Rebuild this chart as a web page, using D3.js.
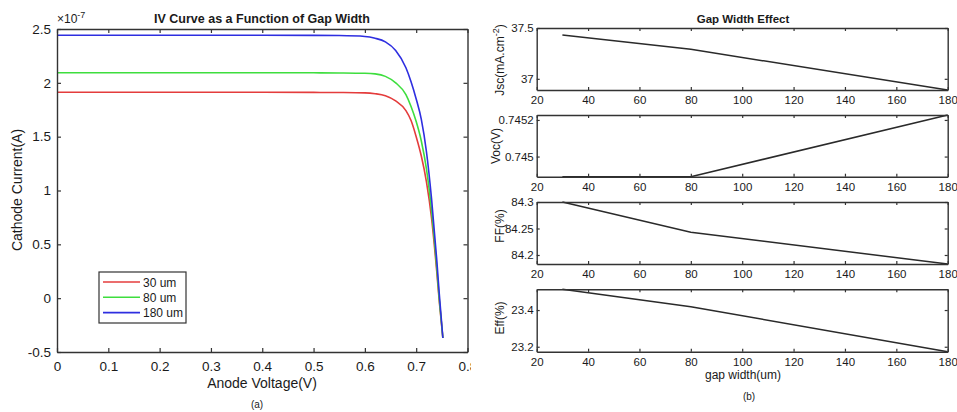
<!DOCTYPE html>
<html>
<head>
<meta charset="utf-8">
<script src="https://cdn.jsdelivr.net/npm/d3@7"></script>
<style>
  body { margin: 0; background: #fff; }
  svg { font-family: "Liberation Sans", Arial, Helvetica, sans-serif; }
  .tick text { fill: #1a1a1a; }
</style>
</head>
<body>
<svg id="chart" width="957" height="412"></svg>
<script>
// ---- data: IV curves (current in units of 1e-7 A) ----
const voltage = [0, 0.1, 0.2, 0.3, 0.4, 0.5, 0.55, 0.6, 0.62, 0.64, 0.66, 0.68, 0.69, 0.70, 0.71, 0.72, 0.73, 0.74, 0.745, 0.752];
const current30 = [1.912, 1.912, 1.912, 1.912, 1.912, 1.911, 1.910, 1.907, 1.899, 1.880, 1.832, 1.742, 1.650, 1.500, 1.320, 1.080, 0.740, 0.250, -0.030, -0.370];
const current80 = [2.094, 2.094, 2.094, 2.094, 2.094, 2.093, 2.092, 2.089, 2.083, 2.060, 2.000, 1.890, 1.780, 1.640, 1.460, 1.200, 0.810, 0.290, -0.010, -0.370];
const current180 = [2.442, 2.442, 2.442, 2.442, 2.442, 2.441, 2.439, 2.431, 2.414, 2.380, 2.300, 2.140, 2.010, 1.850, 1.660, 1.360, 0.920, 0.360, 0.040, -0.370];
const seriesNames = ["30 um", "80 um", "180 um"];
const seriesColors = ["#e43c3c", "#3ede3e", "#2e2ee0"];
const ivTicksX = [0, 0.1, 0.2, 0.3, 0.4, 0.5, 0.6, 0.7, 0.8];
const ivTicksY = [-0.5, 0, 0.5, 1, 1.5, 2, 2.5];

// ---- data: gap width effect ----
const gapWidth = [30, 80, 180];
const jsc = [37.43, 37.29, 36.89];
const voc = [0.74489, 0.74489, 0.745227];
const ff = [84.300, 84.243, 84.183];
const eff = [23.513, 23.418, 23.173];
const gapTicks = [20, 40, 60, 80, 100, 120, 140, 160, 180];

const svg = d3.select("#chart");
const ink = "#333";

// MATLAB-like box axes: ticks pointing inward on all four sides
function boxAxes(g, x, y, xTicks, yTicks, opt) {
  const [x0, x1] = x.range();
  const [y1, y0] = y.range();
  const fs = opt.fontSize;
  const tl = opt.tick || 4;

  const bottom = g.append("g").attr("transform", `translate(0,${y1})`)
    .call(d3.axisBottom(x).tickValues(xTicks).tickSizeInner(-tl).tickSizeOuter(0).tickPadding(opt.xPad || 7).tickFormat(d => String(d)));
  const top = g.append("g").attr("transform", `translate(0,${y0})`)
    .call(d3.axisTop(x).tickValues(xTicks).tickSizeInner(-tl).tickSizeOuter(0).tickFormat(""));
  const left = g.append("g").attr("transform", `translate(${x0},0)`)
    .call(d3.axisLeft(y).tickValues(yTicks).tickSizeInner(-tl).tickSizeOuter(0).tickPadding(opt.yPad || 6).tickFormat(d => String(d)));
  const right = g.append("g").attr("transform", `translate(${x1},0)`)
    .call(d3.axisRight(y).tickValues(yTicks).tickSizeInner(-tl).tickSizeOuter(0).tickFormat(""));

  [bottom, top, left, right].forEach(a => {
    a.select(".domain").attr("stroke", ink).attr("stroke-width", 1.4);
    a.selectAll(".tick line").attr("stroke", ink).attr("stroke-width", 1.2);
    a.selectAll(".tick text").style("font-size", fs + "px");
  });
}

// ================= left panel: IV curve =================
svg.append("defs").append("clipPath").attr("id", "leftClip")
  .append("rect").attr("x", 0).attr("y", 0).attr("width", 471).attr("height", 412);

const left = svg.append("g").attr("clip-path", "url(#leftClip)");

const xIV = d3.scaleLinear().domain([0, 0.8]).range([57, 467.5]);
const yIV = d3.scaleLinear().domain([-0.5, 2.5]).range([352, 29]);

const curves = [current30, current80, current180];
const line = d3.line()
  .x((d, i) => xIV(voltage[i]))
  .y(d => yIV(d))
  .curve(d3.curveMonotoneX);

left.append("g").selectAll("path")
  .data(curves)
  .join("path")
  .attr("d", d => line(d))
  .attr("fill", "none")
  .attr("stroke", (d, i) => seriesColors[i])
  .attr("stroke-width", 1.6);

boxAxes(left, xIV, yIV, ivTicksX, ivTicksY, { fontSize: 13.5, xPad: 9, yPad: 6 });

// exponent label
const exp = left.append("text").attr("x", 57).attr("y", 23).style("font-size", "12px").attr("fill", "#1a1a1a");
exp.append("tspan").text("\u00d710");
exp.append("tspan").attr("dy", -5).style("font-size", "9px").text("-7");

left.append("text")
  .attr("x", 262).attr("y", 23)
  .attr("text-anchor", "middle")
  .style("font-size", "12.5px").style("font-weight", "bold")
  .attr("fill", "#1a1a1a")
  .text("IV Curve as a Function of Gap Width");

left.append("text")
  .attr("x", 262).attr("y", 388)
  .attr("text-anchor", "middle")
  .style("font-size", "14px").attr("fill", "#1a1a1a")
  .text("Anode Voltage(V)");

left.append("text")
  .attr("transform", "translate(22,190) rotate(-90)")
  .attr("text-anchor", "middle")
  .style("font-size", "14px").attr("fill", "#1a1a1a")
  .text("Cathode Current(A)");

left.append("text")
  .attr("x", 257).attr("y", 408)
  .attr("text-anchor", "middle")
  .style("font-size", "10px").attr("fill", "#1a1a1a")
  .text("(a)");

// legend
const legend = left.append("g").attr("transform", "translate(99,272)");
legend.append("rect").attr("width", 87).attr("height", 51)
  .attr("fill", "#fff").attr("stroke", ink).attr("stroke-width", 1.2);
const item = legend.selectAll("g.item").data(seriesNames).join("g")
  .attr("class", "item")
  .attr("transform", (d, i) => `translate(0,${10 + i * 15.3})`);
item.append("line").attr("x1", 4).attr("x2", 41).attr("y1", 0).attr("y2", 0)
  .attr("stroke", (d, i) => seriesColors[i]).attr("stroke-width", 1.6);
item.append("text").attr("x", 44).attr("y", 4.5)
  .style("font-size", "12px").attr("fill", "#1a1a1a")
  .text(d => d);

// ================= right panel: gap width effect =================
const right = svg.append("g");
const xGap = d3.scaleLinear().domain([20, 180]).range([536.7, 947.7]);

const panels = [
  { values: jsc, domain: [36.89, 37.5], ticks: [37, 37.5], rows: [28, 90] },
  { values: voc, domain: [0.74489, 0.745227], ticks: [0.745, 0.7452], rows: [115, 176.7] },
  { values: ff, domain: [84.183, 84.3], ticks: [84.2, 84.25, 84.3], rows: [202, 264] },
  { values: eff, domain: [23.173, 23.513], ticks: [23.2, 23.4], rows: [289.3, 351.7] }
];

panels.forEach(p => {
  const g = right.append("g");
  const y = d3.scaleLinear().domain(p.domain).range([p.rows[1], p.rows[0]]);
  g.append("path")
    .datum(p.values)
    .attr("d", d3.line().x((d, i) => xGap(gapWidth[i])).y(d => y(d)))
    .attr("fill", "none")
    .attr("stroke", "#2a2a2a")
    .attr("stroke-width", 1.5);
  boxAxes(g, xGap, y, gapTicks, p.ticks, { fontSize: 11.5, xPad: 6, yPad: 3, tick: 3 });
});

right.append("text")
  .attr("x", 743).attr("y", 23)
  .attr("text-anchor", "middle")
  .style("font-size", "11.5px").style("font-weight", "bold").attr("fill", "#1a1a1a")
  .text("Gap Width Effect");

// y labels of the subplots
const jscLabel = right.append("text")
  .attr("transform", "translate(504,60) rotate(-90)")
  .attr("text-anchor", "middle")
  .style("font-size", "12px").attr("fill", "#1a1a1a");
jscLabel.append("tspan").text("Jsc(mA.cm");
jscLabel.append("tspan").attr("dy", -5).style("font-size", "9px").text("-2");
jscLabel.append("tspan").attr("dy", 5).text(")");

const yLabels = [
  { text: "Voc(V)", x: 500, y: 146 },
  { text: "FF(%)", x: 504, y: 226 },
  { text: "Eff(%)", x: 504, y: 318 }
];
right.selectAll("text.ylab").data(yLabels).join("text")
  .attr("class", "ylab")
  .attr("transform", d => `translate(${d.x},${d.y}) rotate(-90)`)
  .attr("text-anchor", "middle")
  .style("font-size", "12px").attr("fill", "#1a1a1a")
  .text(d => d.text);

right.append("text")
  .attr("x", 743).attr("y", 379)
  .attr("text-anchor", "middle")
  .style("font-size", "12px").attr("fill", "#1a1a1a")
  .text("gap width(um)");

right.append("text")
  .attr("x", 749).attr("y", 400)
  .attr("text-anchor", "middle")
  .style("font-size", "10px").attr("fill", "#1a1a1a")
  .text("(b)");
</script>
</body>
</html>
